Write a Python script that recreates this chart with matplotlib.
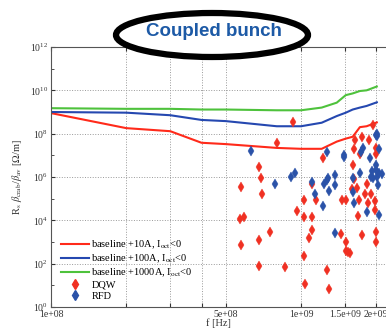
import matplotlib
matplotlib.use('Agg')
from matplotlib import pyplot as plt
from matplotlib.patches import Ellipse
from matplotlib.lines import Line2D
import numpy as np

plt.rcParams['font.family'] = 'Liberation Serif'
plt.rcParams['mathtext.fontset'] = 'stix'

# stability limits (frequency in Hz, impedance in Ohm/m)
f_line = [1e8, 2e8, 3e8, 4e8, 5e8, 8e8, 1e9, 1.21e9, 1.39e9, 1.51e9, 1.61e9, 1.72e9, 1.83e9, 2.01e9]
z_10A = [8.9e8, 1.8e8, 1.3e8, 3.8e7, 3.3e7, 2.2e7, 2.0e7, 2.0e7, 4.3e7, 5.9e7, 7.2e7, 2.0e8, 2.2e8, 3.3e8]
z_100A = [1.0e9, 9.3e8, 7.1e8, 4.3e8, 3.8e8, 2.2e8, 2.2e8, 3.2e8, 6.5e8, 9.3e8, 1.3e9, 1.6e9, 1.9e9, 2.8e9]
z_1000A = [1.5e9, 1.4e9, 1.4e9, 1.3e9, 1.3e9, 1.2e9, 1.2e9, 1.6e9, 2.7e9, 6.0e9, 7.2e9, 9.3e9, 1.0e10, 1.5e10]

# cavity modes
dqw_f = [9.3e8, 8.0e8, 6.8e8, 6.9e8, 5.75e8, 7.0e8, 5.7e8, 5.9e8, 7.5e8, 6.8e8,
         5.75e8, 6.8e8, 8.6e8, 9.6e8, 1.03e9, 1.03e9, 1.11e9, 1.15e9, 1.11e9, 1.11e9,
         1.08e9, 1.03e9, 1.04e9, 1.22e9, 1.27e9, 1.30e9, 1.44e9, 1.46e9, 1.51e9, 1.51e9,
         1.51e9, 1.54e9, 1.57e9, 1.62e9, 1.65e9, 1.76e9, 1.87e9, 1.94e9, 1.63e9, 1.67e9,
         1.70e9, 1.69e9, 1.75e9, 1.80e9, 1.84e9, 1.86e9, 1.91e9, 1.98e9, 1.98e9, 1.99e9,
         1.99e9, 1.99e9, 1.72e9, 1.60e9, 1.63e9, 1.99e9]
dqw_z = [3.5e8, 3.8e7, 3.0e6, 8.9e5, 3.5e5, 1.6e5, 1.2e4, 1.5e4, 2.9e3, 1.2e3,
         7.2e2, 78, 72, 2.7e4, 8.3e4, 1.4e4, 4.9e5, 8.3e4, 1.4e4, 3.7e3,
         1.6e3, 2.3e2, 11, 7.5e6, 50, 6.7, 2.4e3, 8.7e4, 8.3e4, 9.6e2,
         4.0e2, 3.5e2, 3.2e2, 3.7e6, 5.0e7, 7.2e7, 5.0e7, 2.5e8, 7.8e5, 3.0e5,
         8.7e4, 1.6e4, 2.1e3, 1.7e5, 5.0e5, 6.5e4, 1.6e5, 8.0e4, 2.9e4, 2.8e3,
         9.6e2, 2.2e7, 1.1e7, 2.7e5, 2.0e7, 1.2e7]
rfd_f = [6.3e8, 7.9e8, 9.1e8, 9.5e8, 1.11e9, 1.14e9, 1.22e9, 1.24e9, 1.27e9, 1.28e9,
         1.27e9, 1.30e9, 1.37e9, 1.37e9, 1.37e9, 1.49e9, 1.49e9, 1.62e9, 1.62e9, 1.63e9,
         1.72e9, 1.74e9, 1.77e9, 1.84e9, 1.88e9, 1.90e9, 1.94e9, 1.99e9, 2.01e9, 2.01e9,
         2.05e9, 1.99e9, 1.99e9, 2.01e9, 2.06e9, 2.11e9, 2.03e9, 2.05e9, 1.92e9]
rfd_z = [1.6e7, 4.9e5, 9.6e5, 1.5e6, 5.6e5, 1.6e5, 4.6e4, 5.0e5, 7.2e5, 8.9e5,
         1.4e7, 2.2e5, 1.3e6, 4.4e5, 2.7e3, 1.0e7, 8.1e6, 2.0e5, 9.3e5, 6.0e4,
         1.5e6, 1.5e7, 2.1e7, 2.5e4, 7.2e6, 1.0e6, 8.9e5, 8.7e7, 9.6e7, 7.8e7,
         2.0e7, 3.5e6, 2.1e6, 1.0e6, 1.5e6, 1.4e6, 4.1e5, 1.8e4, 1.8e6]

x_ticks = [1e8, 2e8, 3e8, 4e8, 5e8, 1e9, 1.5e9, 2e9]
x_labels = ['1e+08', '', '', '', '5e+08', '1e+09', '1.5e+09', '2e+09']

red = '#ff2a1a'
blue = '#2548b0'
green = '#4ec23c'
dqw_col = '#f03022'
rfd_col = '#2a52a8'

fig = plt.figure(figsize=(3.86, 3.29), dpi=100)
ax = fig.add_axes([51 / 386, 22 / 329, 335 / 386, 260 / 329])

ax.plot(f_line, z_10A, color=red, lw=1.5)
ax.plot(f_line, z_100A, color=blue, lw=1.5)
ax.plot(f_line, z_1000A, color=green, lw=1.5)
ax.plot(dqw_f, dqw_z, 'd', color=dqw_col, ms=4.8, mec=dqw_col, mew=0.3)
ax.plot(rfd_f, rfd_z, 'd', color=rfd_col, ms=4.8, mec=rfd_col, mew=0.3)

ax.set_xscale('log')
ax.set_yscale('log')
ax.set_xlim(1e8, 10 ** 9.34)
ax.set_ylim(1, 1e12)
ax.set_xticks(x_ticks)
ax.set_xticklabels(x_labels)
ax.xaxis.set_minor_locator(matplotlib.ticker.NullLocator())
ax.set_yticks([10.0 ** k for k in range(0, 13, 2)])
ax.yaxis.set_minor_locator(matplotlib.ticker.FixedLocator([10.0 ** k for k in range(1, 12, 2)]))
ax.yaxis.set_minor_formatter(matplotlib.ticker.NullFormatter())
ax.tick_params(which='both', direction='in', labelsize=7, colors='#333333', top=True, right=False)
ax.tick_params(which='major', length=3, pad=2)
ax.tick_params(which='minor', length=2)
ax.grid(True, which='major', ls=':', color='#999999', lw=0.7)
for s in ['left', 'bottom', 'top']:
    ax.spines[s].set_color('#555555')
    ax.spines[s].set_linewidth(0.8)
ax.spines['right'].set_visible(False)

ax.set_xlabel('f [Hz]', fontsize=7.5, labelpad=0, color='#333333')
ax.set_ylabel(r'R$_\mathrm{s}$ $\beta_\mathrm{crab}$/$\beta_\mathrm{av}$ [$\Omega$/m]',
              fontsize=7.5, labelpad=4, color='#333333')

handles = [
    Line2D([], [], color=red, lw=1.5),
    Line2D([], [], color=blue, lw=1.5),
    Line2D([], [], color=green, lw=1.5),
    Line2D([], [], ls='none', marker='d', color=dqw_col, ms=4.8),
    Line2D([], [], ls='none', marker='d', color=rfd_col, ms=4.8),
]
labels = [
    r'baseline +10A, I$_\mathrm{oct}$<0',
    r'baseline +100A, I$_\mathrm{oct}$<0',
    r'baseline +1000A, I$_\mathrm{oct}$<0',
    'DQW',
    'RFD',
]
ax.legend(handles, labels, loc='lower left', frameon=False, fontsize=7.5,
          handlelength=2.7, handletextpad=0.25, labelspacing=0.15,
          borderaxespad=0.2, bbox_to_anchor=(0.01, 0.0))

# title badge
fig.add_artist(Ellipse((212 / 386, 1 - 35 / 329), 192 / 386, 44 / 329,
                       transform=fig.transFigure, facecolor='white',
                       edgecolor='black', lw=4.5, zorder=5))
fig.text(214 / 386, 1 - 32 / 329, 'Coupled bunch', ha='center', va='center',
         fontsize=13.5, fontweight='bold', family='Liberation Sans',
         color='#1d5aa6', zorder=6)

fig.savefig('out.png', dpi=100)
